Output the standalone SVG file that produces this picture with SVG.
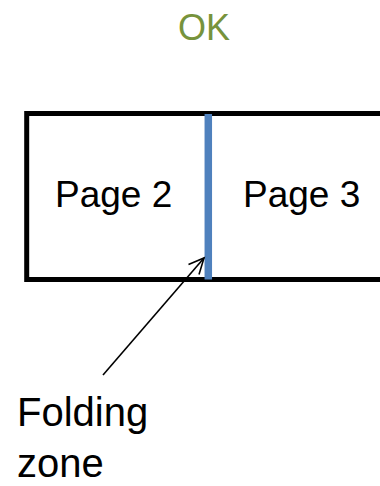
<svg xmlns="http://www.w3.org/2000/svg" width="380" height="486" viewBox="0 0 380 486">
<style>
.lbl{font-family:"Liberation Sans","Open Sans",sans-serif;fill:#000}
.title{font-family:"Liberation Sans","Open Sans",sans-serif;fill:#77933C;font-size:36px}
.conn{stroke:#000;stroke-width:1.6;fill:none}
</style>
<rect width="380" height="486" fill="#fff"/>
<text class="title" x="204" y="40" text-anchor="middle">OK</text>
<g id="sheet">
<rect x="26.7" y="113.5" width="370" height="166" fill="#fff" stroke="#000" stroke-width="5"/>
</g>
<g id="page2"><text class="lbl" x="55" y="207" font-size="37">Page 2</text></g>
<g id="page3"><text class="lbl" x="243" y="207" font-size="37">Page 3</text></g>
<g id="fold"><line x1="208.3" y1="114" x2="208.3" y2="279.5" stroke="#4F81BD" stroke-width="7.5"/></g>
<g id="label"><text class="lbl" x="17" y="426" font-size="40">Folding</text><text class="lbl" x="17" y="477" font-size="40">zone</text></g>
<g id="connectors">
<line class="conn" x1="103" y1="375" x2="204" y2="258"/>
<polyline class="conn" points="188.5,264.5 204,258 199,274.5"/>
</g>
</svg>
